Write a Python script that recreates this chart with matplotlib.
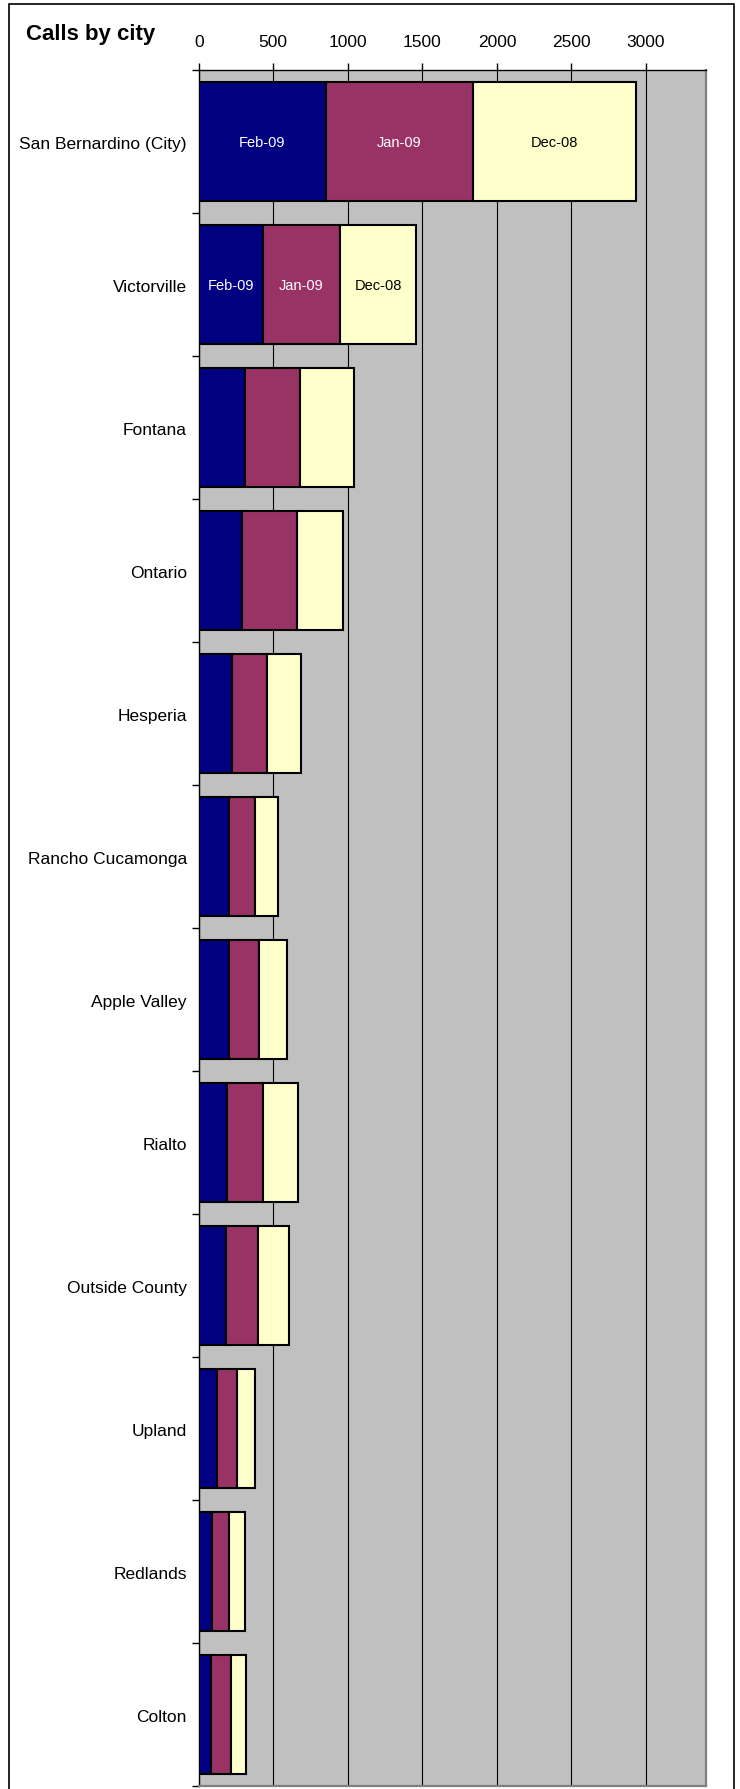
"""
Calls by city - stacked horizontal bars, Excel look
"""
import matplotlib
matplotlib.use("Agg")
import matplotlib.pyplot as plt
import numpy as np
from matplotlib.patches import Rectangle

plt.rcParams['font.family'] = ['Liberation Sans', 'DejaVu Sans']

cities = ['San Bernardino (City)', 'Victorville', 'Fontana', 'Ontario', 'Hesperia',
          'Rancho Cucamonga', 'Apple Valley', 'Rialto', 'Outside County', 'Upland',
          'Redlands', 'Colton']
months = ['Feb-09', 'Jan-09', 'Dec-08']
feb09 = [852, 431, 311, 291, 226, 203, 203, 189, 180, 123, 89, 85]
jan09 = [990, 517, 369, 369, 232, 175, 199, 242, 215, 132, 114, 132]
dec08 = [1090, 510, 362, 306, 230, 157, 192, 236, 209, 121, 108, 101]
x_ticks = [0, 500, 1000, 1500, 2000, 2500, 3000]
labelled_rows = 2  # only the first two bars carry month labels

colors = ['#000080', '#993366', '#FFFFCC']
text_colors = ['white', 'white', 'black']

W, H = 740, 1790
fig = plt.figure(figsize=(W / 100, H / 100), dpi=100)
ax = fig.add_axes([198.7 / W, 1 - 1787.3 / H, (705.7 - 198.7) / W, (1787.3 - 71) / H])
ax.set_facecolor('#C0C0C0')

y = np.arange(len(cities))
left = np.zeros(len(cities))
for m, vals, c, tc in zip(months, [feb09, jan09, dec08], colors, text_colors):
    vals = np.array(vals)
    ax.barh(y, vals, left=left, height=0.83, color=c, edgecolor='black',
            linewidth=1.5, zorder=3)
    for i in range(labelled_rows):
        ax.text(left[i] + vals[i] / 2, y[i], m, ha='center', va='center',
                color=tc, fontsize=10.5, zorder=4)
    left += vals

ax.set_xlim(0, 3400)
ax.set_ylim(len(cities) - 0.5, -0.5)

# x axis on top
ax.xaxis.tick_top()
ax.set_xticks(x_ticks)
ax.set_xticklabels([str(t) for t in x_ticks], fontsize=12.5)
ax.tick_params(axis='x', direction='out', length=5, width=1, pad=10, colors='black')
ax.grid(axis='x', color='black', linewidth=0.8, zorder=1)

# category ticks at boundaries, labels at centres
ax.set_yticks(np.arange(len(cities) + 1) - 0.5)
ax.set_yticklabels([])
ax.set_yticks(y, minor=True)
ax.set_yticklabels(cities, minor=True, fontsize=12.5)
ax.tick_params(axis='y', which='major', direction='out', length=5, width=1)
ax.tick_params(axis='y', which='minor', length=0, pad=8.5)

for s in ['left', 'top']:
    ax.spines[s].set_color('black')
    ax.spines[s].set_linewidth(1)
for s in ['right', 'bottom']:
    ax.spines[s].set_color('#808080')
    ax.spines[s].set_linewidth(1.6)

fig.text(26 / W, 1 - 40 / H, 'Calls by city', fontsize=16, fontweight='bold',
         ha='left', va='baseline')

# outer chart border
fig.patches.append(Rectangle((9.3 / W, -0.01), (734 - 9.3) / W, 1.01 - 4.7 / H,
                             transform=fig.transFigure, fill=False,
                             edgecolor='black', linewidth=1.2))

fig.savefig('out.png', dpi=100)
